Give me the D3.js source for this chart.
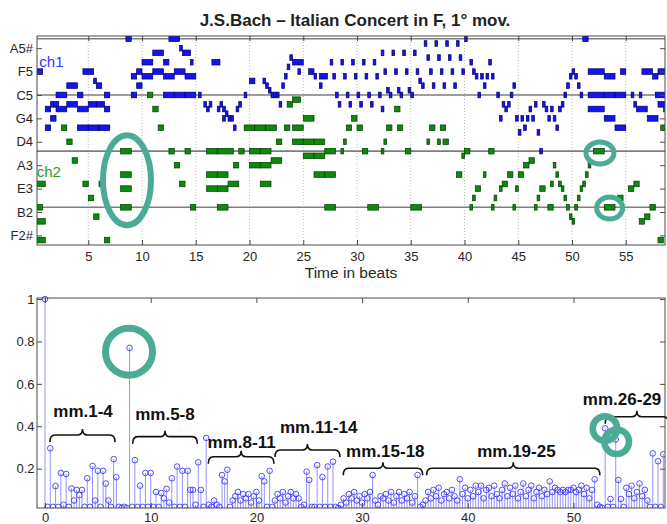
<!DOCTYPE html>
<html><head><meta charset="utf-8">
<script src="https://cdn.jsdelivr.net/npm/d3@7"></script>
<style>body{margin:0;background:#fff}svg{display:block;font-family:"Liberation Sans",Arial,sans-serif}</style>
</head><body><svg id="c" width="667" height="524"></svg>
<script>
// ---------------- data ----------------
const title = "J.S.Bach \u2013 Italian Concert in F, 1\u00b0 mov.";
const pitchTicks = [42, 47, 52, 57, 62, 67, 72, 77, 82];
const pitchLabels = ["F2#", "B2", "E3", "A3", "D4", "G4", "C5", "F5", "A5#"];
const octaveLines = [48, 60, 72, 84];
const beatTicks = [5, 10, 15, 20, 25, 30, 35, 40, 45, 50, 55];
const channelNames = ["ch1", "ch2"];
// [start beat, duration, midi pitch]
const ch1Notes = [
[0.25,0.5,77],
[1,0.5,69],[1,0.5,65],[1.5,0.25,70],[1.5,0.5,67],[1.75,0.5,70],
[2,1,72],[2,1,69],[3,1,74],[3,1,70],
[4,0.5,72],[4,1,69],[4,1,65],[4.5,1,77],
[5,0.75,70],[5,1,65],[5.5,0.25,75],[5.75,0.5,74],[5.75,0.75,70],
[6,1,65],[6.5,0.5,72],[6.5,0.5,69],
[8.5,0.5,84],[9,0.5,76],[9,0.5,72],[9.5,0.5,77],[9.5,0.5,74],
[10,1,79],[10,1,76],[11,1,81],[11,1,77],
[12,0.5,79],[12,1,76],[12,1,72],[12.5,1,84],[13,1,77],[13,1,72],
[13.5,0.25,82],[13.75,0.75,81],[14,1,76],[14,1,72],[14.5,0.25,79],
[15.25,0.25,72],[15.75,0.25,70],[16,0.25,69],[16.25,0.25,70],[16.5,0.75,79],
[17,0.25,69],[17.25,0.25,70],[17.5,0.25,69],[17.75,0.25,68],[17.5,0.25,67],[18,0.25,67],[18.25,0.25,67],[18.5,0.25,65],[18.75,0.25,69],[19,0.25,70],[19.5,0.25,72],
[20,0.5,75],[21.25,0.25,75],[21.5,0.25,74],[21.75,0.25,73],[22,0.25,72],[22.25,0.25,72],[22.5,0.25,72],[22.75,0.25,70],[23,0.25,74],[23.25,0.25,76],[23.5,0.25,78],[23.75,0.25,80],[24,1,79],[24.5,0.25,77],[25.5,0.5,77],[26,0.25,76],[26.5,0.25,74],[26.5,0.75,76],
[27.5,0.25,79],[27.75,0.25,76],[28,0.25,72],[28.25,0.25,70],
[28.5,0.25,79],[28.75,0.25,76],[29,0.25,72],[29.25,0.25,70],
[29.5,0.25,79],[29.75,0.25,76],[30,0.25,72],[30.25,0.25,70],
[30.5,0.25,79],[30.75,0.25,76],[31,0.25,72],[31.25,0.25,70],
[31.5,0.25,79],[31.75,0.25,76],[32,0.25,72],[32.25,0.25,69],
[32.25,0.25,81],[32.5,0.25,77],[32.75,0.25,73],[33,0.25,72],
[33.25,0.25,81],[33.5,0.25,77],[33.75,0.25,73],[34,0.25,72],
[34.25,0.25,81],[34.5,0.25,77],[34.75,0.25,73],[35,0.25,72],
[35.25,0.25,81],[35.5,0.25,77],[35.75,0.25,75],[36,0.25,74],
[36.25,0.25,83],[36.5,0.25,80],[36.75,0.25,77],[37,0.25,74],
[37.25,0.25,83],[37.5,0.25,80],[37.75,0.25,77],[38,0.25,74],
[38.25,0.25,83],[38.5,0.25,80],[38.75,0.25,77],[39,0.25,74],
[39.25,0.25,83],[39.5,0.25,80],[39.75,0.25,77],[40,0.25,84],
[40.5,0.25,79],[40.75,0.25,77],[41,0.25,76],[41.25,0.25,72],[41.5,0.25,76],[41.75,0.25,74],[42,0.25,76],[42.25,0.25,79],[42.5,0.25,76],
[43,0.25,72],[43.25,0.25,67],[43.5,0.25,70],[43.75,0.25,69],[44,0.25,70],[44.25,0.25,72],[44.5,0.25,74],
[44.75,0.25,67],[45,0.25,64],[45.25,0.25,67],[45.5,0.25,65],[45.75,0.25,67],[46,0.25,69],[46.25,0.25,67],[46.5,0.25,70],[46.75,0.25,64],[47,0.25,60],[47.25,0.25,70],[47.5,0.25,69],[47.75,0.25,67],[48,0.25,69],[48.25,0.25,67],[48.5,0.25,65],[48.75,0.25,69],[49,0.25,70],[49.25,0.25,72],[49.5,0.25,74],[49.75,0.25,76],[50,0.25,77],[50.25,0.25,76],[50.5,0.25,74],[50.75,0.25,72],
[51,0.5,84],
[51.5,1.5,77],[51.5,1.5,72],[51.5,1.5,69],[53,1,76],[53,1,72],[53,1,67],[54,1,72],[54,1,65],[54.5,0.5,77],
[55.5,0.25,72],[55.75,0.25,70],[56.25,0.25,72],[56,1,69],[56.5,1,77],[57,1,67],[57.5,0.5,76],[57.75,1,72],[58,0.75,77],[58,0.75,70]
];
const ch2Notes = [
[0.25,0.75,53],[0.25,0.5,48],[0.25,0.75,45],[0.25,0.75,41],
[2.5,0.5,65],
[3,0.5,62],[3.5,0.5,58],[4.5,0.5,53],[5,0.5,50],[5.5,0.5,46],[6,0.25,53],[6.5,0.5,41],
[8,1,60],[8,1,55],[8,1,52],[8,1,48],
[10.5,0.5,72],[11,0.5,69],[11.5,0.5,65],
[12.5,0.5,60],[13,0.5,57],[13.5,0.5,53],[14,0.5,60],[14.5,0.5,48],
[16,1,60],[17,1.5,60],[16,1,55],[17,1,55],[16,1,52],[17,1,52],[17,1,48],[18,1,53],[18.5,0.5,57],[19,0.5,60],
[19.5,1,65],[20.5,1,65],[21.5,1,65],
[20,1,60],[21,1,60],[20,1,57],[21,1,57],[21,1,53],[22,1,58],[22.5,0.5,62],
[23.25,0.5,65],[23.5,0.5,70],[24,0.75,71],[24,1,65],[25,1,67],
[24,1,62],[25,1,62],[26,1,62],[25,1,59],[26,1,59],[26,1,55],[27,1,55],[27,1,60],[27,1,48],
[28.5,0.25,60],[28.75,0.25,62],[29,0.5,65],[29.5,0.5,67],[30,0.5,65],[30.5,0.5,60],[31,1,48],
[32.25,0.25,60],[32.5,0.25,62],[32.75,0.5,65],[33.5,0.5,69],[33.75,0.5,65],
[34.5,0.5,60],[35,1,48],
[36.5,0.25,62],[36.75,0.5,65],[37.5,0.25,62],[37.75,0.5,65],[38,0.5,62],
[39.25,0.5,55],[39.75,0.25,59],[40,0.5,60],[40.5,0.25,48],[40.75,0.25,50],[41,0.5,52],[41.75,0.25,55],[42.25,0.5,60],[42.5,0.25,48],[42.75,0.25,50],[43.25,0.25,52],[43.5,0.5,53],[44,0.5,55],[44.5,0.25,48],[44.75,0.25,52],[45,0.5,55],[45.5,0.5,57],[46,0.5,58],[46.5,0.25,48],[46.75,0.25,50],[47,0.5,52],[47.75,0.5,48],
[48,0.25,53],[48.25,0.25,57],[48.5,0.25,55],[48.75,0.25,53],[49,0.25,52],[49.25,0.25,50],[49.5,0.25,48],[49.75,0.25,46],[50,0.25,45],[50.25,0.25,48],[50.5,0.25,50],[50.75,0.25,52],[51,0.25,53],[51.25,0.25,55],[51.5,0.25,57],
[52,1,60],[53,1,48],[54.25,0.5,50],
[55.25,0.5,52],[55.75,0.5,53],[56.25,0.5,45],[56.75,0.5,46],[57.25,0.5,48],[58,0.5,41],[58.25,0.5,65],[58.5,0.25,69]
];
const xLabelTop = "Time in beats";

// autocorrelation: one row per beat, values at +0, +0.25, +0.5, +0.75
const lagTicks = [0, 10, 20, 30, 40, 50];
const corrTicks = [0.2, 0.4, 0.6, 0.8, 1];
const corrTickLabels = ["0.2", "0.4", "0.6", "0.8", "1"];
const corrByBeat = [
[1.00,0.02,0.296,0.02],[0.118,0.02,0.18,0.03],[0.175,0.02,0.107,0.05],[0.10,0.075,0.10,0.02],
[0.155,0.02,0.213,0.05],[0.19,0.02,0.19,0.13],[0.05,0.02,0.245,0.16],[0.02,0.015,0.02,0.015],
[0.77,0.02,0.24,0.02],[0.12,0.02,0.18,0.02],[0.18,0.02,0.09,0.02],[0.085,0.06,0.105,0.04],
[0.155,0.02,0.21,0.02],[0.19,0.02,0.19,0.10],[0.10,0.03,0.23,0.10],[0.02,0.345,0.03,0.02],
[0.05,0.03,0.02,0.17],[0.14,0.195,0.02,0.05],[0.07,0.09,0.05,0.08],[0.06,0.08,0.04,0.07],
[0.09,0.05,0.165,0.14],[0.02,0.19,0.02,0.05],[0.08,0.06,0.09,0.04],[0.07,0.09,0.06,0.08],
[0.06,0.02,0.03,0.186],[0.147,0.02,0.02,0.217],[0.02,0.16,0.02,0.21],[0.02,0.233,0.02,0.015],
[0.03,0.06,0.04,0.08],[0.06,0.09,0.05,0.07],[0.04,0.08,0.06,0.09],[0.17,0.05,0.03,0.07],
[0.06,0.08,0.05,0.09],[0.04,0.07,0.09,0.05],[0.08,0.06,0.09,0.04],[0.07,0.17,0.02,0.03],
[0.05,0.09,0.06,0.10],[0.07,0.11,0.05,0.08],[0.09,0.06,0.10,0.07],[0.05,0.15,0.08,0.11],
[0.06,0.10,0.07,0.12],[0.09,0.12,0.06,0.10],[0.11,0.07,0.12,0.08],[0.06,0.10,0.13,0.07],
[0.11,0.08,0.12,0.06],[0.09,0.13,0.07,0.10],[0.12,0.06,0.09,0.11],[0.07,0.10,0.08,0.14],
[0.09,0.11,0.10,0.09],[0.10,0.09,0.10,0.10],[0.11,0.09,0.10,0.12],[0.08,0.11,0.06,0.10],
[0.15,0.03,0.02,0.015],[0.39,0.02,0.057,0.02],[0.338,0.147,0.057,0.02],[0.11,0.08,0.12,0.06],
[0.09,0.13,0.07,0.10],[0.05,0.02,0.272,0.02],[0.235,0.02,0.268]
];

// section braces (lag range, level) and labels
const braceNames = ["mm.1-4", "mm.5-8", "mm.8-11", "mm.11-14", "mm.15-18", "mm.19-25", "mm.26-29"];
const braceFrom  = [0.47, 8.3, 15.45, 21.76, 28.22, 36.11, 53.0];
const braceTo    = [6.62, 14.41, 21.66, 27.9, 35.73, 52.5, 59.0];
const braceLevel = [0.359, 0.351, 0.256, 0.288, 0.202, 0.202, 0.445];
const labelLag   = [3.6, 11.35, 18.6, 25.9, 32.2, 44.6, 54.6];
const labelLevel = [0.445, 0.429, 0.296, 0.366, 0.256, 0.256, 0.500];

// highlight rings
const topRingBeat = [8.6, 52.6, 53.5];
const topRingPitch = [53.8, 59.6, 47.85];
const botRingLag = [7.95, 52.98, 54.09];
const botRingCorr = [0.752, 0.389, 0.327];

// ---------------- drawing ----------------
const svg = d3.select("#c");
const teal = "#4aab96";
const frameColor = "#4a4a4a";

svg.append("text").attr("x", 355).attr("y", 26).attr("text-anchor", "middle")
  .attr("font-size", 17).attr("font-weight", "bold").attr("fill", "#222").text(title);

// ===== Top panel =====
const tL = 37, tR = 665, tT = 36, tB = 245;
const bx = d3.scaleLinear().domain([0.23, 58.65]).range([tL, tR]);
const py = d3.scaleLinear().domain([39.95, 84.6]).range([tB, tT]);
const topG = svg.append("g");
svg.append("clipPath").attr("id", "clipTop").append("rect")
  .attr("x", tL).attr("y", tT).attr("width", tR - tL).attr("height", tB - tT);

topG.append("g").selectAll("line").data(beatTicks).join("line")
  .attr("x1", d => bx(d)).attr("x2", d => bx(d)).attr("y1", tT).attr("y2", tB)
  .attr("stroke", "#aaa").attr("stroke-width", 0.8).attr("stroke-dasharray", "1,2");
topG.append("g").selectAll("line").data(octaveLines).join("line")
  .attr("x1", tL).attr("x2", tR).attr("y1", d => py(d)).attr("y2", d => py(d))
  .attr("stroke", "#7d7d7d").attr("stroke-width", 1.6);

function drawNotes(notes, fill, stroke) {
  topG.append("g").attr("clip-path", "url(#clipTop)").selectAll("rect").data(notes).join("rect")
    .attr("x", d => bx(d[0]))
    .attr("width", d => Math.max(2.4, bx(d[0] + d[1]) - bx(d[0])))
    .attr("y", d => py(d[2] + 0.6))
    .attr("height", d => py(d[2] - 0.6) - py(d[2] + 0.6))
    .attr("fill", fill).attr("stroke", stroke).attr("stroke-width", 0.7);
}
drawNotes(ch2Notes, "#0b8a0b", "#033d03");
drawNotes(ch1Notes, "#1414f0", "#00006a");

const gxb = topG.append("g").attr("transform", `translate(0,${tB})`)
  .call(d3.axisBottom(bx).tickValues(beatTicks).tickSizeInner(-5).tickSizeOuter(0).tickPadding(6.5));
const gyl = topG.append("g").attr("transform", `translate(${tL},0)`)
  .call(d3.axisLeft(py).tickValues(pitchTicks).tickFormat((d, i) => pitchLabels[i]).tickSizeInner(-5).tickSizeOuter(0).tickPadding(4));
const gxt = topG.append("g").attr("transform", `translate(0,${tT})`)
  .call(d3.axisTop(bx).tickValues(beatTicks).tickFormat("").tickSizeInner(-5).tickSizeOuter(0));
const gyr = topG.append("g").attr("transform", `translate(${tR},0)`)
  .call(d3.axisRight(py).tickValues(pitchTicks).tickFormat("").tickSizeInner(-5).tickSizeOuter(0));
[gxb, gyl, gxt, gyr].forEach(g => {
  g.select(".domain").remove();
  g.selectAll("line").attr("stroke", frameColor);
  g.selectAll("text").attr("font-size", 13).attr("fill", "#262626").attr("font-family", "Liberation Sans, Arial, sans-serif");
});
topG.append("rect").attr("x", tL).attr("y", tT).attr("width", tR - tL).attr("height", tB - tT)
  .attr("fill", "none").attr("stroke", frameColor).attr("stroke-width", 1);

topG.append("text").attr("x", bx(0.45)).attr("y", py(77.9)).attr("font-size", 15).attr("fill", "#3333ff").text(channelNames[0]);
topG.append("text").attr("x", bx(0.2)).attr("y", py(54.4)).attr("font-size", 15).attr("fill", "#2a9a2a").text(channelNames[1]);
topG.append("text").attr("x", 351).attr("y", 278).attr("text-anchor", "middle").attr("font-size", 15.5).attr("fill", "#262626").text(xLabelTop);

const topRx = [24, 14, 13], topRy = [45, 11, 11], topSw = [6, 5, 5];
topG.append("g").selectAll("ellipse").data(topRingBeat).join("ellipse")
  .attr("cx", d => bx(d)).attr("cy", (d, i) => py(topRingPitch[i]))
  .attr("rx", (d, i) => topRx[i]).attr("ry", (d, i) => topRy[i])
  .attr("fill", "none").attr("stroke", teal).attr("stroke-width", (d, i) => topSw[i]);

// ===== Bottom panel =====
const bL = 37, bR = 665, bT = 298, bB = 508;
const lx = d3.scaleLinear().domain([-0.757, 58.66]).range([bL, bR]);
const cy = d3.scaleLinear().domain([0.0146, 1.005]).range([bB, bT]);
const botG = svg.append("g");
svg.append("clipPath").attr("id", "clipBot").append("rect")
  .attr("x", bL).attr("y", bT - 4).attr("width", bR - bL).attr("height", bB - bT + 4);

const stems = [];
corrByBeat.forEach((row, b) => row.forEach((v, j) => stems.push({ lag: b + j * 0.25, v })));
const sg = botG.append("g").attr("clip-path", "url(#clipBot)");
sg.selectAll("line").data(stems).join("line")
  .attr("x1", d => lx(d.lag)).attr("x2", d => lx(d.lag))
  .attr("y1", bB).attr("y2", d => cy(d.v))
  .attr("stroke", "#9494ff").attr("stroke-width", 1);
sg.selectAll("circle").data(stems).join("circle")
  .attr("cx", d => lx(d.lag)).attr("cy", d => cy(d.v)).attr("r", 2.8)
  .attr("fill", "none").attr("stroke", "#3b3bff").attr("stroke-width", 0.9);

const bxb = botG.append("g").attr("transform", `translate(0,${bB})`)
  .call(d3.axisBottom(lx).tickValues(lagTicks).tickSizeInner(-5).tickSizeOuter(0).tickPadding(5));
const byl = botG.append("g").attr("transform", `translate(${bL},0)`)
  .call(d3.axisLeft(cy).tickValues(corrTicks).tickFormat((d, i) => corrTickLabels[i]).tickSizeInner(-5).tickSizeOuter(0).tickPadding(2.5));
const bxt = botG.append("g").attr("transform", `translate(0,${bT})`)
  .call(d3.axisTop(lx).tickValues(lagTicks).tickFormat("").tickSizeInner(-5).tickSizeOuter(0));
const byr = botG.append("g").attr("transform", `translate(${bR},0)`)
  .call(d3.axisRight(cy).tickValues(corrTicks).tickFormat("").tickSizeInner(-5).tickSizeOuter(0));
[bxb, byl, bxt, byr].forEach(g => {
  g.select(".domain").remove();
  g.selectAll("line").attr("stroke", frameColor);
  g.selectAll("text").attr("font-size", 13).attr("fill", "#262626").attr("font-family", "Liberation Sans, Arial, sans-serif");
});
botG.append("rect").attr("x", bL).attr("y", bT).attr("width", bR - bL).attr("height", bB - bT)
  .attr("fill", "none").attr("stroke", frameColor).attr("stroke-width", 1);

function bracePath(x1, x2, y) {
  const xm = (x1 + x2) / 2, h = 7, t = 6, r = 5;
  return `M${x1},${y + h} Q${x1},${y} ${x1 + r},${y} L${xm - r},${y} Q${xm},${y} ${xm},${y - t}` +
         ` Q${xm},${y} ${xm + r},${y} L${x2 - r},${y} Q${x2},${y} ${x2},${y + h}`;
}
const bg = botG.append("g");
bg.selectAll("path").data(braceNames).join("path")
  .attr("d", (d, i) => bracePath(lx(braceFrom[i]), lx(braceTo[i]), cy(braceLevel[i])))
  .attr("fill", "none").attr("stroke", "#111").attr("stroke-width", 1.6);
bg.selectAll("text").data(braceNames).join("text")
  .attr("x", (d, i) => lx(labelLag[i])).attr("y", (d, i) => cy(labelLevel[i]))
  .attr("text-anchor", "middle").attr("font-size", 17).attr("font-weight", "bold").attr("fill", "#111")
  .text(d => d);

const botR = [23.5, 12.3, 12.3], botSw = [7, 6.5, 6.5];
botG.append("g").selectAll("circle").data(botRingLag).join("circle")
  .attr("cx", d => lx(d)).attr("cy", (d, i) => cy(botRingCorr[i]))
  .attr("r", (d, i) => botR[i]).attr("fill", "none").attr("stroke", teal).attr("stroke-width", (d, i) => botSw[i]);
</script></body></html>
